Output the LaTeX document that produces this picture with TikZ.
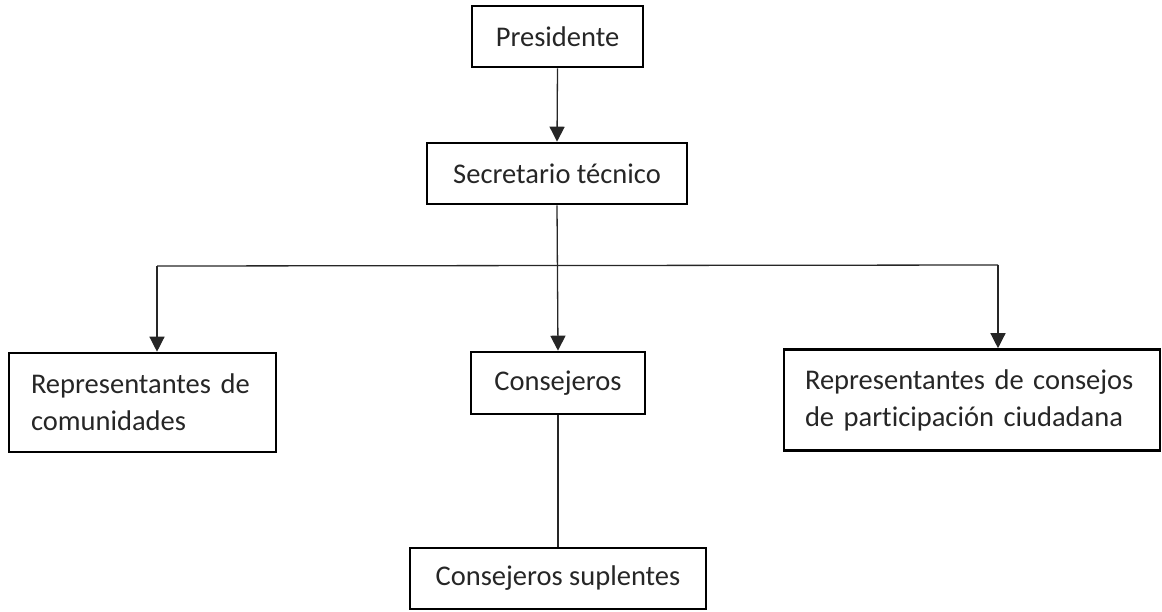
\documentclass[tikz,border=0pt]{standalone}
\usepackage{fontspec}
\setmainfont{Carlito}[Ligatures=NoCommon]
\usetikzlibrary{arrows.meta,calc}
\begin{document}
\begin{tikzpicture}[x=1pt,y=-1pt,
  box/.style={draw,line width=2.6pt,rectangle,inner sep=0pt,font=\fontsize{28.5}{37}\selectfont,text=black!85},
  conn/.style={line width=1.3pt,draw=black!85},
  arr/.style={conn,-{Triangle[width=15pt,length=15pt]}}]
\useasboundingbox (0,0) rectangle (1162,611);
\node[box,minimum width=171pt,minimum height=61pt] (pres) at (557.5,36.5) {Presidente};
\node[box,minimum width=260pt,minimum height=61pt] (sec) at (557,173.5) {Secretario técnico};
\node[box,minimum width=267pt,minimum height=99pt,align=left,text width=223pt] (rep) at (142.5,402.5) {Representantes de\\comunidades};
\node[box,minimum width=174pt,minimum height=62pt] (con) at (558,383) {Consejeros};
\node[box,minimum width=376pt,minimum height=101pt,align=left,text width=334pt] (rcp) at (972,400) {Representantes de consejos\\de participación ciudadana\rule[-1pt]{0pt}{1pt}};
\node[box,minimum width=296pt,minimum height=61pt] (sup) at (558,578.5) {Consejeros suplentes};
\coordinate (jl) at (157,266);
\coordinate (jr) at (998,265);
\draw[arr] (pres.south) -- (sec.north);
\draw[arr] (sec.south) -- (con.north);
\draw[conn] (jl) -- (jr);
\draw[arr] (jl) -- (jl |- rep.north);
\draw[arr] (jr) -- (jr |- rcp.north);
\draw[conn] (con.south) -- (sup.north);
\end{tikzpicture}
\end{document}
